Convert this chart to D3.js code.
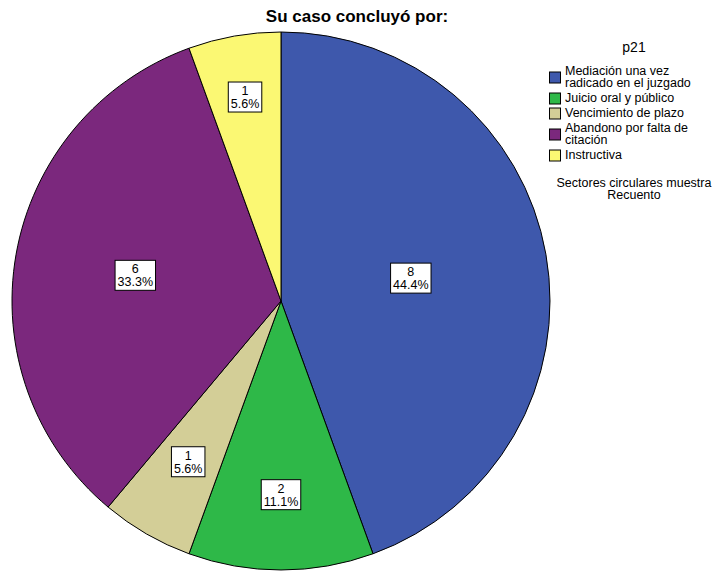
<!DOCTYPE html>
<html>
<head>
<meta charset="utf-8">
<script src="https://cdn.jsdelivr.net/npm/d3@7"></script>
<style>
  body { margin: 0; background: #fff; }
  text { font-family: Arial, "Liberation Sans", sans-serif; }
</style>
</head>
<body>
<div id="chart"></div>
<script>
// data
var categories = ["Mediación una vez radicado en el juzgado", "Juicio oral y público",
    "Vencimiento de plazo", "Abandono por falta de citación", "Instructiva"];
var legendLines = [["Mediación una vez", "radicado en el juzgado"], ["Juicio oral y público"],
    ["Vencimiento de plazo"], ["Abandono por falta de", "citación"], ["Instructiva"]];
var counts = [8, 2, 1, 6, 1];
var colors = ["#3E58AC", "#2EB848", "#D3CE97", "#7B287D", "#FBF873"];

// label distance from centre, as fraction of radius (layout only)
var labelRadii = [0.49, 0.72, 0.69, 0.55, 0.77];

var width = 718, height = 571,
    cx = 281, cy = 301, radius = 269;

var total = d3.sum(counts);

var svg = d3.select("#chart").append("svg")
    .attr("width", width)
    .attr("height", height);

svg.append("text")
    .attr("x", 357)
    .attr("y", 22)
    .attr("text-anchor", "middle")
    .attr("font-size", 17)
    .attr("font-weight", "bold")
    .text("Su caso concluyó por:");

var pie = d3.pie().sort(null).value(function(d) { return d; });
var arcs = pie(counts);

var arc = d3.arc().innerRadius(0).outerRadius(radius);

var g = svg.append("g")
    .attr("transform", "translate(" + cx + "," + cy + ")");

g.selectAll("path")
    .data(arcs)
    .enter().append("path")
    .attr("d", arc)
    .attr("fill", function(d, i) { return colors[i]; })
    .attr("stroke", "#000")
    .attr("stroke-width", 1);

// value labels
var labels = g.selectAll(".lab")
    .data(arcs)
    .enter().append("g")
    .attr("class", "lab")
    .attr("transform", function(d, i) {
        var r = radius * labelRadii[i];
        var a = (d.startAngle + d.endAngle) / 2;
        return "translate(" + (Math.sin(a) * r) + "," + (-Math.cos(a) * r) + ")";
    });

labels.each(function(d) {
    var el = d3.select(this);
    var pct = (d.value / total * 100).toFixed(1) + "%";
    var t1 = el.append("text").attr("text-anchor", "middle").attr("font-size", 12.5)
        .attr("y", -2).text(d.value);
    var t2 = el.append("text").attr("text-anchor", "middle").attr("font-size", 12.5)
        .attr("y", 11).text(pct);
    var w = Math.max(t1.node().getComputedTextLength(), t2.node().getComputedTextLength()) + 5;
    el.insert("rect", "text")
        .attr("x", -w / 2)
        .attr("y", -15)
        .attr("width", w)
        .attr("height", 30)
        .attr("fill", "#fff")
        .attr("stroke", "#000")
        .attr("stroke-width", 1);
});

// legend
var legend = svg.append("g");

legend.append("text")
    .attr("x", 634)
    .attr("y", 52)
    .attr("text-anchor", "middle")
    .attr("font-size", 14)
    .text("p21");

var lineH = 12, y = 75;
legendLines.forEach(function(lines, i) {
    var n = lines.length;
    var boxY = y - 9 + (n - 1) * lineH / 2;
    legend.append("rect")
        .attr("x", 549.5)
        .attr("y", boxY)
        .attr("width", 11)
        .attr("height", 11)
        .attr("fill", colors[i])
        .attr("stroke", "#000")
        .attr("stroke-width", 1);
    lines.forEach(function(l, j) {
        legend.append("text")
            .attr("x", 565)
            .attr("y", y + j * lineH)
            .attr("font-size", 12.5)
            .text(l);
    });
    y += n * lineH + 3;
});

legend.append("text")
    .attr("x", 634)
    .attr("y", 187)
    .attr("text-anchor", "middle")
    .attr("font-size", 12.5)
    .text("Sectores circulares muestra");
legend.append("text")
    .attr("x", 634)
    .attr("y", 199)
    .attr("text-anchor", "middle")
    .attr("font-size", 12.5)
    .text("Recuento");
</script>
</body>
</html>
